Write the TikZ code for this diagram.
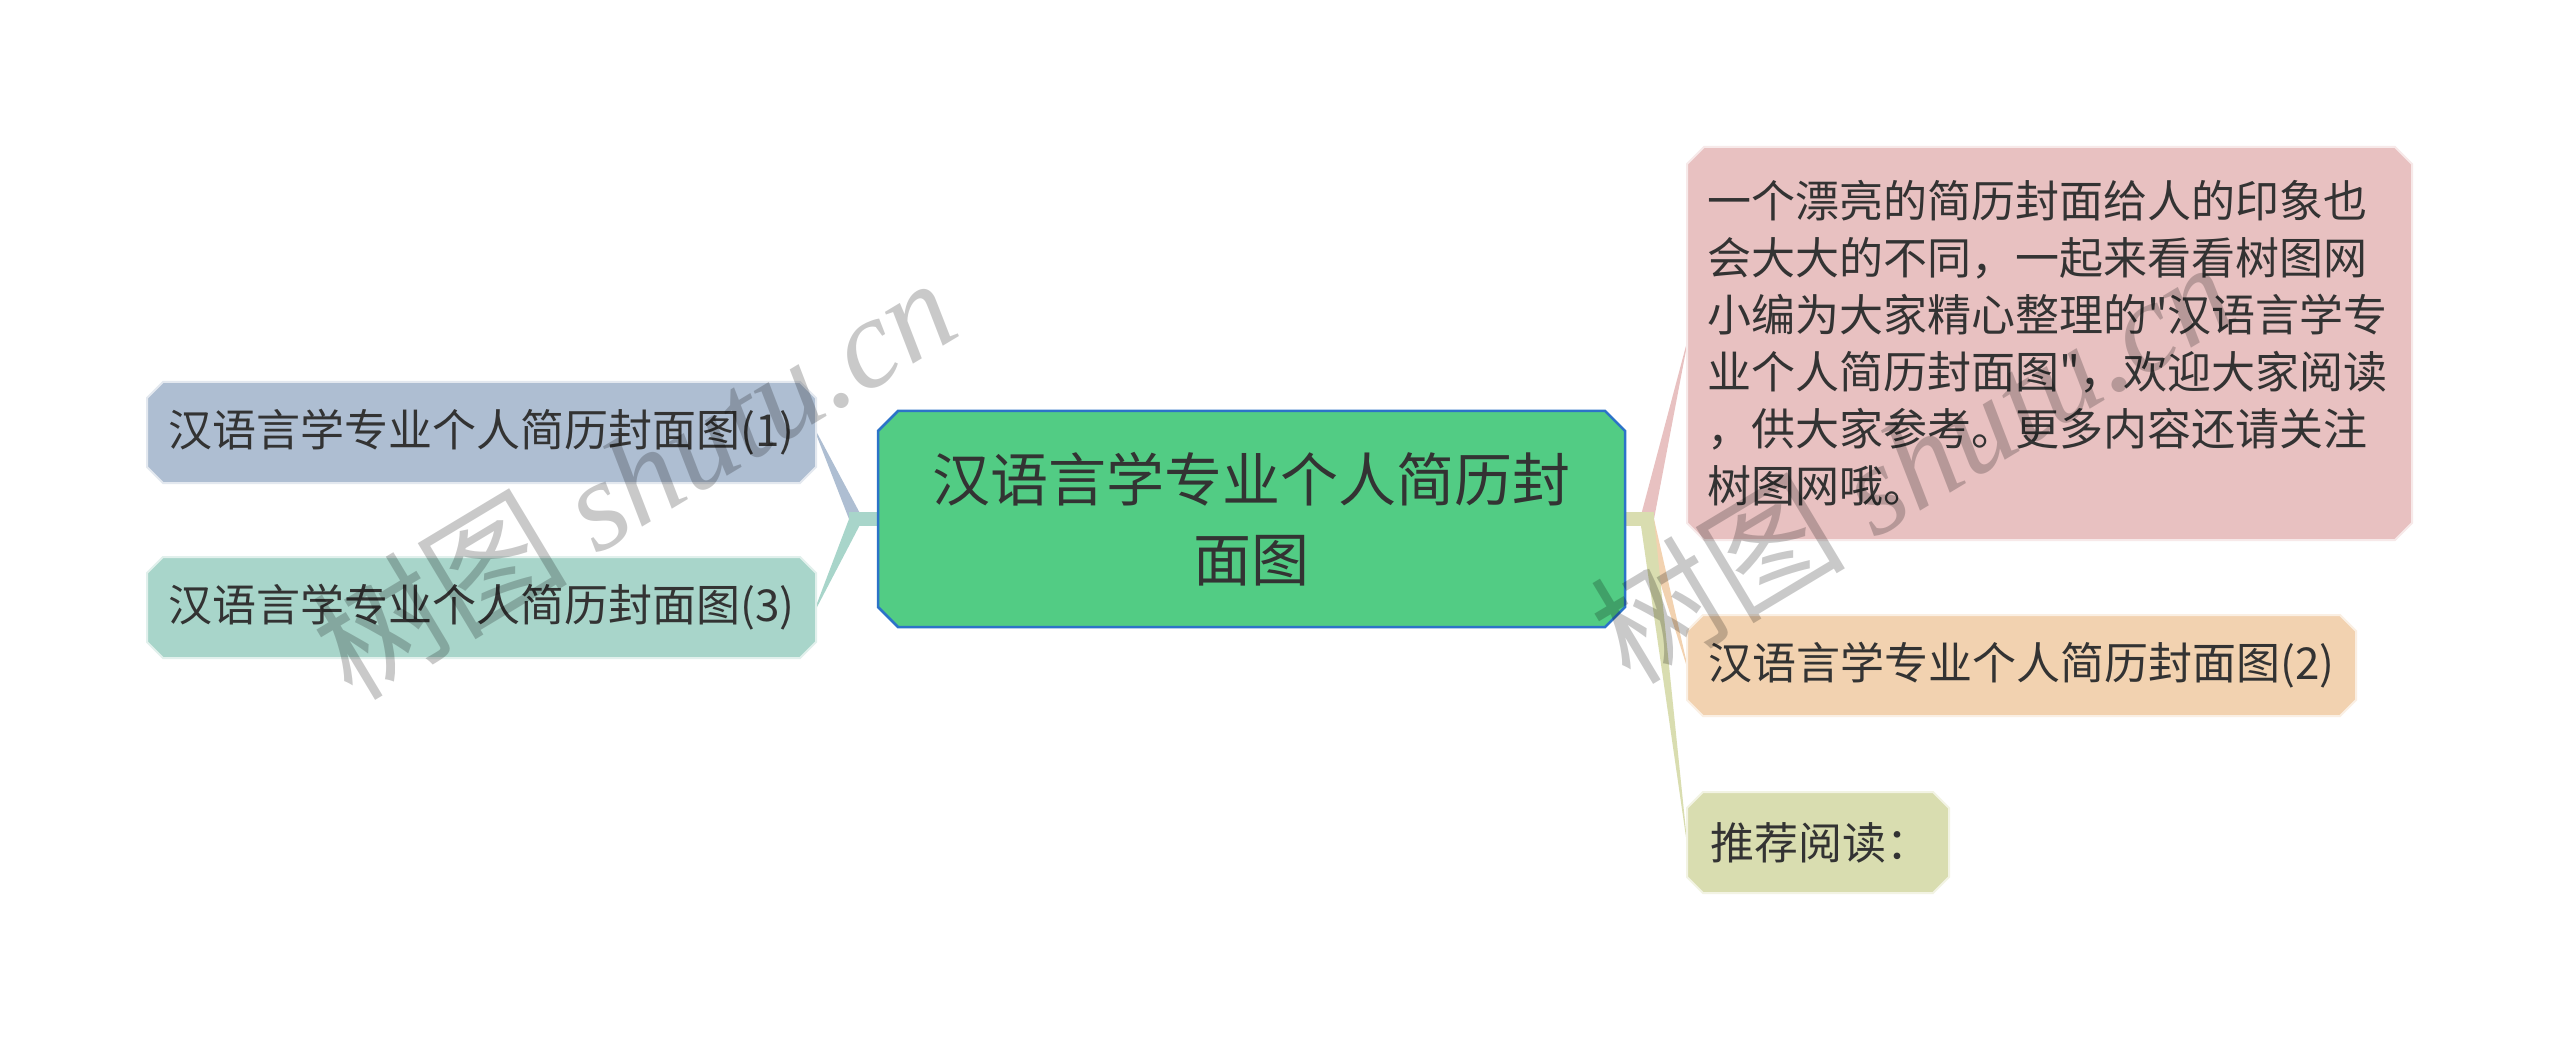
\documentclass[tikz,border=0pt]{standalone}
\usepackage{fontspec}
\setmainfont[Ligatures=TeXOff]{Noto Sans CJK SC}
\newfontfamily\wmlatin{Liberation Serif}
\usetikzlibrary{backgrounds}
\definecolor{txt}{HTML}{333333}
\definecolor{cgreen}{HTML}{52CC84}
\definecolor{cborder}{HTML}{2C73C8}
\definecolor{cblue}{HTML}{AEBED2}
\definecolor{cteal}{HTML}{A8D5CA}
\definecolor{cpink}{HTML}{E8C1C1}
\definecolor{cpeach}{HTML}{F2D2B0}
\definecolor{colive}{HTML}{D9DDB0}
\newcommand\octpath[3]{%
  \path[#3] ([xshift=#2]#1.north west) -- ([xshift=-#2]#1.north east)
    -- ([yshift=-#2]#1.north east) -- ([yshift=#2]#1.south east)
    -- ([xshift=-#2]#1.south east) -- ([xshift=#2]#1.south west)
    -- ([yshift=#2]#1.south west) -- ([yshift=-#2]#1.north west) -- cycle;}
\tikzset{
  every node/.style={text=txt, inner sep=0pt, outer sep=0pt},
  childbox/.style={minimum height=101pt, font=\fontsize{44}{56}\selectfont},
  wmark/.style={rotate=31, anchor=base west, text=black, text opacity=0.21,
    font=\fontsize{128}{128}\selectfont},
  taper/.style={fill=#1, draw=none}
}
\begin{document}
\begin{tikzpicture}[x=1pt,y=-1pt]
\useasboundingbox (0,0) rectangle (2560,1040);
% nodes
\node[minimum width=747pt, minimum height=216pt, align=center,
  font=\fontsize{58}{80}\selectfont] (c) at (1251.5,519)
  {汉语言学专业个人简历封\\面图};
\node[childbox, minimum width=669pt] (n1) at (481.5,432.5) {汉语言学专业个人简历封面图(1)};
\node[childbox, minimum width=669pt] (n3) at (481.5,607.5) {汉语言学专业个人简历封面图(3)};
\node[minimum width=725pt, minimum height=393pt, text width=685pt, inner xsep=20pt,
  align=left, font=\fontsize{44}{57}\selectfont] (p) at (2049.5,343.5)
  {一个漂亮的简历封面给人的印象也\\会大大的不同，一起来看看树图网\\小编为大家精心整理的"汉语言学专\\业个人简历封面图"，欢迎大家阅读\\，供大家参考。更多内容还请关注\\树图网哦。};
\node[childbox, minimum width=669pt] (n2) at (2021.5,665.5) {汉语言学专业个人简历封面图(2)};
\node[childbox, minimum width=262pt] (r) at (1818,842.5) {\makebox[216pt][l]{推荐阅读：}};
\coordinate (jl) at (856,519);
\coordinate (jr) at (1647,519);
\begin{pgfonlayer}{background}
\fill[white] (0,0) rectangle (2560,1040);
% left connectors
\fill[taper=cblue] ([yshift=1.5pt]n1.east) -- ([xshift=7pt]jl) -- ([xshift=-7pt]jl) -- ([yshift=-1.5pt]n1.east) -- cycle;
\fill[taper=cteal] ([yshift=-1.5pt]n3.east) -- ([xshift=7pt]jl) -- ([xshift=-7pt]jl) -- ([yshift=1.5pt]n3.east) -- cycle;
\fill[cteal] ([yshift=7pt]c.west) rectangle ([xshift=-29pt,yshift=-7pt]c.west);
% right connectors
\fill[taper=cpink] ([yshift=-1.5pt]p.west) -- ([xshift=7pt]jr) -- ([xshift=-7pt]jr) -- ([yshift=1.5pt]p.west) -- cycle;
\fill[taper=cpeach] ([yshift=1.5pt]n2.west) -- ([xshift=7pt]jr) -- ([xshift=-7pt]jr) -- ([yshift=-1.5pt]n2.west) -- cycle;
\fill[taper=colive] ([yshift=1.5pt]r.west) -- ([xshift=7pt]jr) -- ([xshift=-7pt]jr) -- ([yshift=-1.5pt]r.west) -- cycle;
\fill[colive] ([yshift=7pt]c.east) rectangle ([xshift=29pt,yshift=-7pt]c.east);
% shapes
\octpath{c}{20pt}{fill=cgreen, draw=cborder, line width=2.5pt}
\octpath{n1}{16pt}{fill=cblue, draw=cblue!35!white, line width=2pt}
\octpath{n3}{16pt}{fill=cteal, draw=cteal!35!white, line width=2pt}
\octpath{p}{17pt}{fill=cpink, draw=cpink!35!white, line width=2pt}
\octpath{n2}{16pt}{fill=cpeach, draw=cpeach!35!white, line width=2pt}
\octpath{r}{16pt}{fill=colive, draw=colive!35!white, line width=2pt}
\end{pgfonlayer}
% watermarks
\node[wmark] (wm1) at (352,702) {树图 {\wmlatin\itshape shutu.cn}};
\node[wmark] (wm2) at (1630,686) {树图 {\wmlatin\itshape shutu.cn}};
\end{tikzpicture}
\end{document}
